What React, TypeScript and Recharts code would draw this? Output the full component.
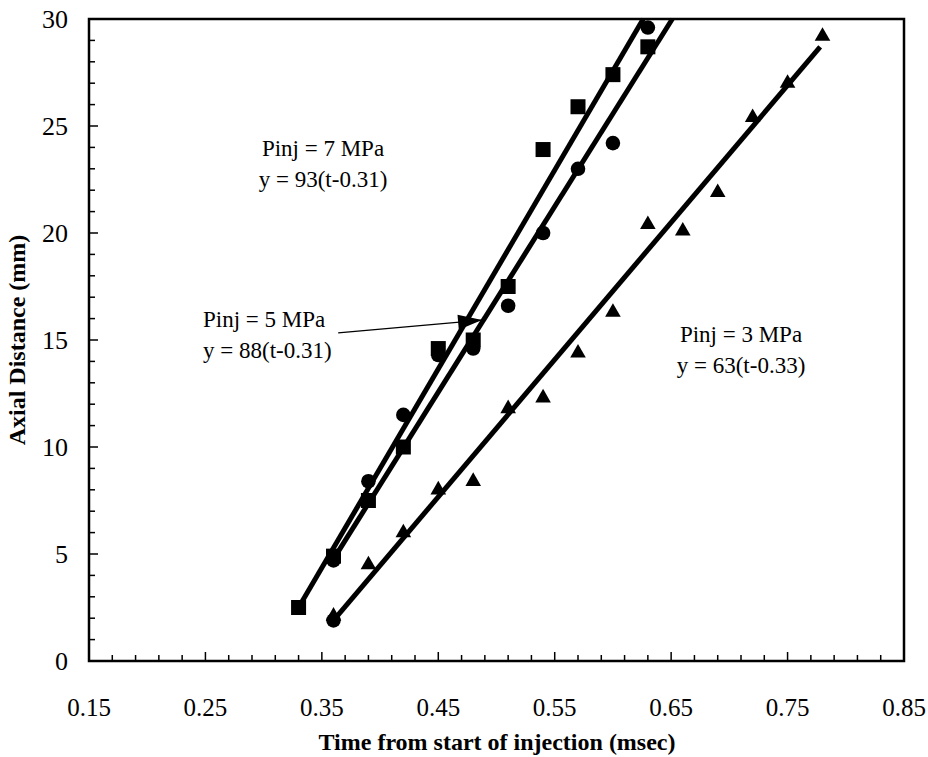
import React from 'react';
import { ScatterChart, Scatter, XAxis, YAxis, ReferenceArea } from 'recharts';

// ---- axis ticks ----
const xMajorTicks = [0.15, 0.25, 0.35, 0.45, 0.55, 0.65, 0.75, 0.85];
const xMinorStep = 0.02;
const yMajorTicks = [0, 5, 10, 15, 20, 25, 30];
const yMinorStep = 1;

// ---- measured points ----
const squareTime = [0.33, 0.36, 0.39, 0.42, 0.45, 0.48, 0.51, 0.54, 0.57, 0.6, 0.63];
const squareDist = [2.5, 4.9, 7.5, 10.0, 14.6, 15.0, 17.5, 23.9, 25.9, 27.4, 28.7];
const circleTime = [0.36, 0.36, 0.39, 0.42, 0.45, 0.48, 0.51, 0.54, 0.57, 0.6, 0.63];
const circleDist = [1.9, 4.7, 8.4, 11.5, 14.3, 14.6, 16.6, 20.0, 23.0, 24.2, 29.6];
const triangleTime = [0.36, 0.39, 0.42, 0.45, 0.48, 0.51, 0.54, 0.57, 0.6, 0.63, 0.66, 0.69, 0.72, 0.75, 0.78];
const triangleDist = [2.2, 4.6, 6.1, 8.1, 8.5, 11.9, 12.4, 14.5, 16.4, 20.5, 20.2, 22.0, 25.5, 27.1, 29.3];

// ---- fitted lines (end points) ----
const fit7Time = [0.33, 0.626];
const fit7Dist = [2.5, 30];
const fit5Time = [0.357, 0.651];
const fit5Dist = [4.5, 30];
const fit3Time = [0.36, 0.778];
const fit3Dist = [1.9, 28.7];

// ---- arrow (from label to 5 MPa line) ----
const arrowTime = [0.364, 0.4876];
const arrowDist = [15.33, 15.93];

// ---- annotation texts ----
const label7 = ['Pinj = 7 MPa', 'y = 93(t-0.31)'];
const label5 = ['Pinj = 5 MPa', 'y = 88(t-0.31)'];
const label3 = ['Pinj = 3 MPa', 'y = 63(t-0.33)'];
const xTitle = 'Time from start of injection (msec)';
const yTitle = 'Axial Distance (mm)';

const zip = (ts: number[], vs: number[]) => ts.map((t, i) => ({ t, v: vs[i] }));

const squares = zip(squareTime, squareDist);
const circles = zip(circleTime, circleDist);
const triangles = zip(triangleTime, triangleDist);
const fit7 = zip(fit7Time, fit7Dist);
const fit5 = zip(fit5Time, fit5Dist);
const fit3 = zip(fit3Time, fit3Dist);
const arrow = zip(arrowTime, arrowDist);
const arrowTip = [arrow[1]];

const buildTicks = (majors: number[], step: number) => {
  const out: number[] = [];
  const lo = majors[0];
  const hi = majors[majors.length - 1];
  const n = Math.round((hi - lo) / step);
  for (let i = 0; i <= n; i++) out.push(Math.round((lo + i * step) * 1000) / 1000);
  return out;
};
const xAllTicks = buildTicks(xMajorTicks, xMinorStep);
const yAllTicks = buildTicks(yMajorTicks, yMinorStep);

const isMajor = (v: number, majors: number[]) => majors.some((m) => Math.abs(m - v) < 1e-6);

const FONT = '"Liberation Serif", "DejaVu Serif", serif';

const XTick = (props: any) => {
  const { x, y, payload } = props;
  const major = isMajor(payload.value, xMajorTicks);
  return (
    <g>
      <line x1={x} x2={x} y1={y} y2={y - (major ? 9 : 6)} stroke="#000" strokeWidth={1.5} />
      {major && (
        <text x={x} y={y + 55} textAnchor="middle" fontFamily={FONT} fontSize={25} fill="#000">
          {payload.value.toFixed(2)}
        </text>
      )}
    </g>
  );
};

const YTick = (props: any) => {
  const { x, y, payload } = props;
  const major = isMajor(payload.value, yMajorTicks);
  return (
    <g>
      <line x1={x} x2={x + (major ? 9 : 6)} y1={y} y2={y} stroke="#000" strokeWidth={1.5} />
      {major && (
        <text x={x - 21} y={y} dy="0.35em" textAnchor="end" fontFamily={FONT} fontSize={26} fill="#000">
          {payload.value}
        </text>
      )}
    </g>
  );
};

const SquareShape = (p: any) => <rect x={p.cx - 7.5} y={p.cy - 7.5} width={15} height={15} fill="#000" />;
const CircleShape = (p: any) => <circle cx={p.cx} cy={p.cy} r={7.3} fill="#000" />;
const TriangleShape = (p: any) => (
  <polygon points={`${p.cx},${p.cy - 6.8} ${p.cx + 7.8},${p.cy + 6.8} ${p.cx - 7.8},${p.cy + 6.8}`} fill="#000" />
);
const NoShape = () => <g />;
const ArrowHead = (p: any) => (
  <polygon
    points={`${p.cx},${p.cy} ${p.cx - 24},${p.cy - 7.5} ${p.cx - 24},${p.cy + 7.5}`}
    fill="#000"
    transform={`rotate(-5 ${p.cx} ${p.cy})`}
  />
);

const Annot = ({ x, y, lines, anchor }: { x: number; y: number; lines: string[]; anchor: 'start' | 'middle' }) => (
  <text fontFamily={FONT} fontSize={23} fill="#000" textAnchor={anchor}>
    {lines.map((l, i) => (
      <tspan key={i} x={x} y={y + i * 31}>
        {l}
      </tspan>
    ))}
  </text>
);

export default function App() {
  return (
    <div style={{ position: 'absolute', left: 0, top: 0, width: 928, height: 757, background: '#fff' }}>
      <ScatterChart width={928} height={757} margin={{ top: 19, right: 24, bottom: 0, left: 0 }}>
        <XAxis
          type="number"
          dataKey="t"
          domain={[0.15, 0.85]}
          ticks={xAllTicks}
          interval={0}
          tickSize={0}
          tickMargin={0}
          axisLine={false}
          tickLine={false}
          tick={<XTick />}
          height={96}
          allowDataOverflow
        />
        <YAxis
          type="number"
          dataKey="v"
          domain={[0, 30]}
          ticks={yAllTicks}
          interval={0}
          tickSize={0}
          tickMargin={0}
          axisLine={false}
          tickLine={false}
          tick={<YTick />}
          width={89}
        />
        <ReferenceArea x1={0.15} x2={0.85} y1={0} y2={30} fill="none" stroke="#000" strokeWidth={2.5} />
        <Scatter data={fit7} line={{ stroke: '#000', strokeWidth: 5 }} shape={<NoShape />} isAnimationActive={false} />
        <Scatter data={fit5} line={{ stroke: '#000', strokeWidth: 5 }} shape={<NoShape />} isAnimationActive={false} />
        <Scatter data={fit3} line={{ stroke: '#000', strokeWidth: 5 }} shape={<NoShape />} isAnimationActive={false} />
        <Scatter data={arrow} line={{ stroke: '#000', strokeWidth: 1.3 }} shape={<NoShape />} isAnimationActive={false} />
        <Scatter data={arrowTip} shape={<ArrowHead />} isAnimationActive={false} />
        <Scatter data={squares} shape={<SquareShape />} isAnimationActive={false} />
        <Scatter data={circles} shape={<CircleShape />} isAnimationActive={false} />
        <Scatter data={triangles} shape={<TriangleShape />} isAnimationActive={false} />
        <Annot x={323} y={156} lines={label7} anchor="middle" />
        <Annot x={203} y={327} lines={label5} anchor="start" />
        <Annot x={741} y={342} lines={label3} anchor="middle" />
        <text x={497} y={750} textAnchor="middle" fontFamily={FONT} fontSize={24} fontWeight="bold" fill="#000">
          {xTitle}
        </text>
        <text
          x={0}
          y={0}
          transform="translate(25 340) rotate(-90)"
          textAnchor="middle"
          fontFamily={FONT}
          fontSize={24}
          fontWeight="bold"
          fill="#000"
        >
          {yTitle}
        </text>
      </ScatterChart>
    </div>
  );
}
